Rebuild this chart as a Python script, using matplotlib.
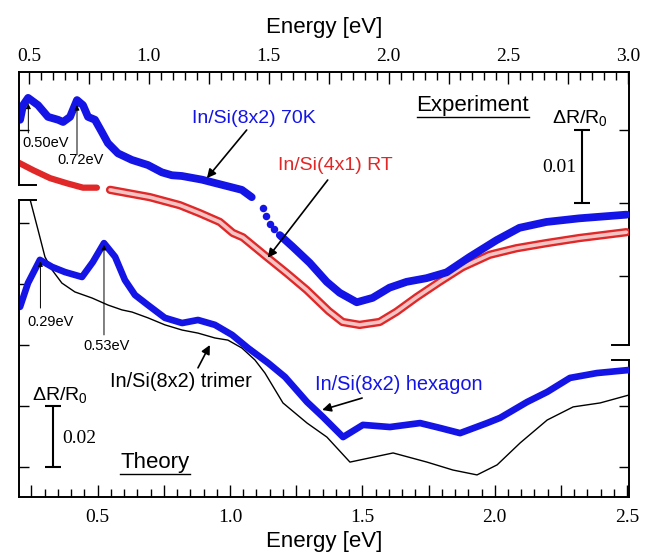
import matplotlib
matplotlib.use('Agg')
import matplotlib.pyplot as plt
from matplotlib.ticker import MultipleLocator, FuncFormatter

plt.rcParams['font.family'] = 'Liberation Sans'
plt.rcParams['mathtext.fontset'] = 'custom'
plt.rcParams['mathtext.rm'] = 'Liberation Sans'
plt.rcParams['mathtext.it'] = 'Liberation Sans:italic'

BLUE = '#1414e6'
RED = '#e02828'
SERIF = 'Liberation Serif'

"""experiment, In/Si(8x2) 70K  (dR/R in units of 1e-3, offset)"""
e70_E = [0.4625, 0.475, 0.496, 0.5375, 0.579, 0.621, 0.642, 0.671, 0.70, 0.725, 0.746,
         0.775, 0.804, 0.829, 0.871, 0.929, 0.996, 1.054, 1.096, 1.1375, 1.221, 1.304,
         1.3875, 1.429]
e70_v = [11.4, 13.4, 14.4, 13.4, 11.8, 11.4, 11.1, 11.8, 14.1, 13.4, 11.8,
         11.4, 9.7, 8.2, 6.8, 5.9, 5.2, 4.2, 3.8, 3.7, 3.2, 2.5,
         1.8, 0.8]
e70dot_E = [1.475, 1.49, 1.505, 1.52]
e70dot_v = [-0.7, -1.8, -2.9, -3.6]
e70b_E = [1.546, 1.60, 1.671, 1.742, 1.796, 1.867, 1.933, 2.004, 2.075, 2.158, 2.242,
          2.3375, 2.45, 2.546, 2.658, 2.796, 2.992]
e70b_v = [-4.4, -6.0, -8.2, -10.8, -12.3, -13.6, -13.0, -11.6, -10.8, -10.3, -9.5,
          -7.4, -5.1, -3.4, -2.6, -2.1, -1.6]

"""experiment, In/Si(4x1) RT"""
rta_E = [0.458, 0.517, 0.588, 0.658, 0.725, 0.783]
rta_v = [5.5, 4.5, 3.4, 2.7, 2.1, 2.1]
rtb_E = [0.838, 1.004, 1.129, 1.2125, 1.296, 1.35, 1.392, 1.492, 1.575, 1.658, 1.75,
         1.808, 1.879, 1.9625, 2.033, 2.117, 2.2125, 2.308, 2.421, 2.533, 2.658, 2.796,
         2.992]
rtb_v = [1.8, 0.8, -0.3, -1.4, -2.6, -4.1, -4.7, -7.4, -9.6, -11.9, -14.8,
         -16.3, -16.7, -16.3, -14.9, -12.9, -10.8, -8.8, -7.1, -6.2, -5.5, -4.8,
         -4.0]

"""theory, hexagon and trimer"""
hex_E = [0.207, 0.237, 0.282, 0.328, 0.377, 0.441, 0.482, 0.524, 0.566, 0.603, 0.641,
         0.69, 0.754, 0.819, 0.879, 0.943, 1.008, 1.068, 1.144, 1.208, 1.291, 1.351,
         1.427, 1.502, 1.604, 1.718, 1.793, 1.869, 1.971, 2.02, 2.122, 2.198, 2.284,
         2.386, 2.507]
hex_v = [32.5, 40.3, 47.9, 45.6, 43.9, 42.3, 47.2, 53.4, 48.9, 41.3, 36.4,
         33.1, 28.9, 27.2, 28.2, 26.6, 23.3, 19.0, 14.1, 9.5, 1.3, -3.6,
         -10.2, -6.2, -6.9, -5.6, -7.2, -8.9, -5.6, -3.9, 1.3, 4.6, 9.2,
         10.8, 11.8]
tri_E = [0.244, 0.275, 0.301, 0.328, 0.365, 0.414, 0.479, 0.539, 0.592, 0.63, 0.69,
         0.754, 0.819, 0.879, 0.943, 0.992, 1.045, 1.094, 1.132, 1.2, 1.291, 1.366,
         1.453, 1.529, 1.616, 1.744, 1.842, 1.933, 2.009, 2.096, 2.198, 2.296, 2.398,
         2.507]
tri_v = [68.0, 57.7, 48.9, 44.6, 40.3, 37.4, 35.4, 33.1, 31.5, 30.8, 28.9,
         26.6, 24.9, 23.9, 22.3, 21.6, 19.0, 15.1, 10.8, 1.0, -5.6, -10.2,
         -18.4, -17.0, -15.4, -18.4, -21.0, -22.6, -19.3, -12.1, -4.6, -0.3, 1.0,
         3.6]

peaks_exp = [0.497, 0.70]
peaks_th = [0.284, 0.524]


def elabel(x, pos):
    if abs(x * 2 - round(x * 2)) < 1e-6:
        return '%.1f' % x
    return ''


fig = plt.figure(figsize=(6.55, 5.54), dpi=100)
ax1 = fig.add_axes([0.0290, 0.3773, 0.9313, 0.4928])   # experiment
ax2 = fig.add_axes([0.0290, 0.1029, 0.9313, 0.5361])   # theory
for ax in (ax1, ax2):
    ax.patch.set_visible(False)
    for s in ax.spines.values():
        s.set_linewidth(1.4)

ax1.set_xlim(0.458, 3.003)
ax1.set_ylim(-19.45, 17.95)
ax2.set_xlim(0.203, 2.507)
ax2.set_ylim(-29.84, 67.54)

"""axes / ticks"""
ax1.xaxis.set_ticks_position('top')
ax1.xaxis.set_label_position('top')
ax1.spines['bottom'].set_visible(False)
ax1.spines['right'].set_visible(False)
ax1.spines['left'].set_bounds(2.47, 17.95)
ax2.spines['top'].set_visible(False)
ax2.spines['right'].set_visible(False)

for ax in (ax1, ax2):
    ax.xaxis.set_major_locator(MultipleLocator(0.25))
    ax.xaxis.set_minor_locator(MultipleLocator(0.05))
    ax.xaxis.set_major_formatter(FuncFormatter(elabel))
    ax.tick_params(axis='x', which='major', direction='in', length=8.5, width=1.0,
                   labelsize=14, labelfontfamily=SERIF)
    ax.tick_params(axis='x', which='minor', direction='in', length=5.5, width=1.0)
    ax.tick_params(axis='y', direction='in', length=7, width=1.0, labelleft=False)
    ax.set_xlabel('Energy [eV]', fontsize=16)

ax1.tick_params(axis='x', which='major', pad=5)
ax2.tick_params(axis='x', which='major', pad=9)
ax1.xaxis.labelpad = 11
ax2.xaxis.labelpad = 3
ax1.set_yticks([10])
ax2.set_yticks([60, 40, 20, 0, -20])

r1 = ax1.secondary_yaxis('right')
r1.set_yticks([10, 0, -10])
r1.tick_params(direction='in', length=7, width=1.0, labelright=False)
r1.spines['right'].set_linewidth(1.4)
r2 = ax2.secondary_yaxis('right')
r2.set_yticks([0, -20])
r2.tick_params(direction='in', length=7, width=1.0, labelright=False)
r2.spines['right'].set_linewidth(1.4)
r2.spines['right'].set_bounds(-29.84, 15.1)

"""bracket ends of the broken frame"""
f = 17 / 610.
ax1.plot([0, f], [2.47, 2.47], transform=ax1.get_yaxis_transform(), color='k', lw=1.4, clip_on=False)
ax1.plot([1 - f, 1], [-19.45, -19.45], transform=ax1.get_yaxis_transform(), color='k', lw=1.4, clip_on=False)
ax2.plot([0, f], [67.54, 67.54], transform=ax2.get_yaxis_transform(), color='k', lw=1.4, clip_on=False)
ax2.plot([1 - f, 1], [15.1, 15.1], transform=ax2.get_yaxis_transform(), color='k', lw=1.4, clip_on=False)

"""experiment curves"""
rnd = dict(solid_capstyle='round', solid_joinstyle='round')
ax1.plot(rta_E, rta_v, color=RED, lw=4.5, **rnd)
ax1.plot(rtb_E, rtb_v, color=RED, lw=6.0, **rnd)
ax1.plot(rtb_E, rtb_v, color='#f4c4c4', lw=2.6, **rnd)
ax1.plot(e70_E, e70_v, color=BLUE, lw=5.6, **rnd)
ax1.plot(e70dot_E, e70dot_v, 'o', color=BLUE, ms=5.4, mew=0)
ax1.plot(e70b_E, e70b_v, color=BLUE, lw=5.6, **rnd)

"""theory curves"""
ax2.plot(tri_E, tri_v, color='k', lw=1.0, solid_joinstyle='round')
ax2.plot(hex_E, hex_v, color=BLUE, lw=4.8, **rnd)

"""peak markers"""
small = dict(arrowstyle='-|>', color='k', lw=0.7, mutation_scale=7, shrinkA=0, shrinkB=0)
ax1.annotate('', xy=(peaks_exp[0], 13.6), xytext=(peaks_exp[0], 9.6), arrowprops=small)
ax1.text(0.471, 8.2, '0.50eV', fontsize=10.5, ha='left', va='center')
ax1.annotate('', xy=(peaks_exp[1], 13.4), xytext=(peaks_exp[1], 6.6), arrowprops=small)
ax1.text(0.713, 5.9, '0.72eV', fontsize=10.5, ha='center', va='center')
ax2.annotate('', xy=(peaks_th[0], 47.4), xytext=(peaks_th[0], 32.1), arrowprops=small)
ax2.text(0.324, 27.5, '0.29eV', fontsize=10.5, ha='center', va='center')
ax2.annotate('', xy=(peaks_th[1], 52.8), xytext=(peaks_th[1], 23.3), arrowprops=small)
ax2.text(0.532, 19.7, '0.53eV', fontsize=10.5, ha='center', va='center')

"""labels"""
big = dict(arrowstyle='-|>', color='k', lw=1.2, mutation_scale=13, shrinkA=0, shrinkB=0)
ax1.text(1.179, 11.6, 'In/Si(8x2) 70K', color=BLUE, fontsize=14, ha='left', va='center')
ax1.annotate('', xy=(1.242, 3.4), xytext=(1.408, 10.0), arrowprops=big)
ax1.text(1.5375, 5.2, 'In/Si(4x1) RT', color=RED, fontsize=14, ha='left', va='center')
ax1.annotate('', xy=(1.496, -7.5), xytext=(1.746, 3.15), arrowprops=big)
ax2.text(0.547, 7.9, 'In/Si(8x2) trimer', color='k', fontsize=14.3, ha='left', va='center')
ax2.annotate('', xy=(0.924, 20.0), xytext=(0.879, 12.5), arrowprops=big)
ax2.text(1.321, 6.9, 'In/Si(8x2) hexagon', color=BLUE, fontsize=14.4, ha='left', va='center')
ax2.annotate('', xy=(1.348, -1.3), xytext=(1.499, 2.6), arrowprops=big)

ax1.text(2.35, 13.4, 'Experiment', fontsize=16, ha='center', va='center')
ax1.plot([2.117, 2.5875], [11.8, 11.8], color='k', lw=1.0)
ax2.text(0.717, -18.4, 'Theory', fontsize=16, ha='center', va='center')
ax2.plot([0.584, 0.849], [-22.3, -22.3], color='k', lw=1.0)

"""scale bars"""
ax1.text(2.80, 11.6, r'$\Delta$R/R$_0$', fontsize=14, ha='center', va='center')
ax1.errorbar([2.808], [5], yerr=[5], fmt='none', ecolor='k', elinewidth=1.5, capsize=5.5, capthick=1.5)
ax1.text(2.783, 4.9, '0.01', fontsize=14, family=SERIF, ha='right', va='center')
ax2.text(0.358, 3.6, r'$\Delta$R/R$_0$', fontsize=14, ha='center', va='center')
ax2.errorbar([0.331], [-10], yerr=[10], fmt='none', ecolor='k', elinewidth=1.5, capsize=5.5, capthick=1.5)
ax2.text(0.365, -10.5, '0.02', fontsize=14, family=SERIF, ha='left', va='center')

fig.savefig('out.png', dpi=100)
